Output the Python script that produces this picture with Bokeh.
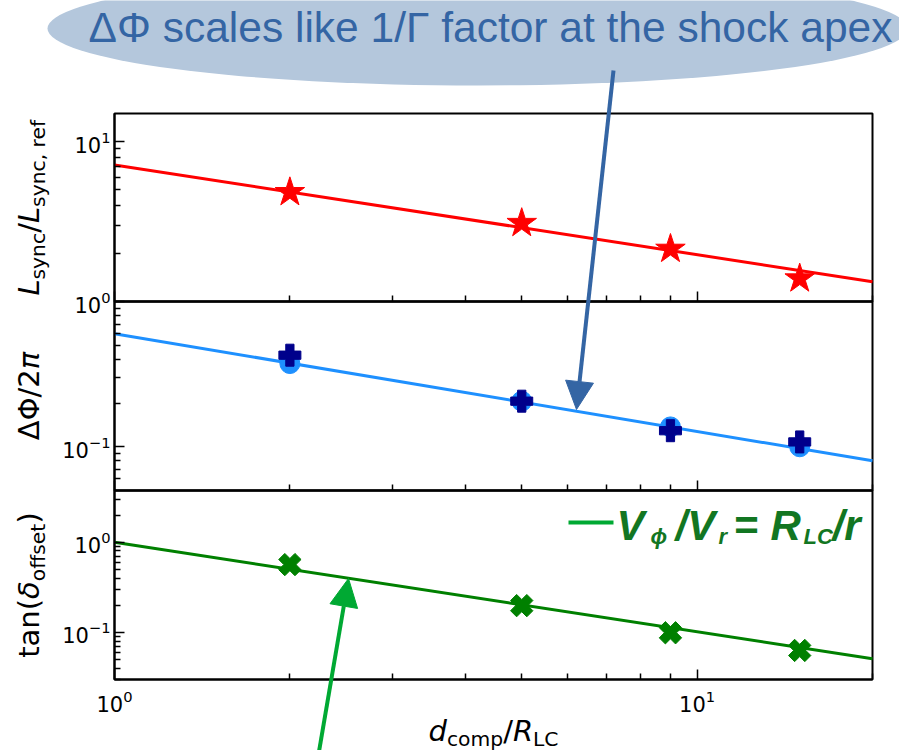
import math
from bokeh.plotting import figure
from bokeh.models import (Range1d, FixedTicker, Arrow, NormalHead, Label, LogAxis,
                          LogScale)
from bokeh.embed import file_html
from bokeh.resources import INLINE

# ---------------- data ----------------
d_comp = [2, 5, 9, 15]
L_sync = [4.82, 3.09, 2.13, 1.39]
dphi_circle = [0.374, 0.206, 0.137, 0.100]
dphi_plus = [0.427, 0.206, 0.129, 0.108]
tan_delta = [0.565, 0.198, 0.099, 0.063]

fit_x = [1, 20]
fit_L = [7.15, 1.33]
fit_dphi = [0.60, 0.080]
fit_tan = [1.0, 0.051]

x_lim = (1, 20)
y_lim_top = (1, 15)
y_lim_mid = (0.05, 1)
y_lim_bot = (0.03, 3.75)

x_major = [1, 10]
x_minor = [2, 3, 4, 5, 6, 7, 8, 9, 20]
y_major_top = [1, 10]
y_minor_top = [2, 3, 4, 5, 6, 7, 8, 9]
y_major_mid = [0.1]
y_minor_mid = [0.06, 0.07, 0.08, 0.09, 0.2, 0.3, 0.4, 0.5, 0.6, 0.7, 0.8, 0.9]
y_major_bot = [0.1, 1]
y_minor_bot = [0.03, 0.04, 0.05, 0.06, 0.07, 0.08, 0.09, 0.2, 0.3, 0.4, 0.5, 0.6,
               0.7, 0.8, 0.9, 2, 3]

title_text = "ΔΦ scales like 1/Γ factor at the shock apex"

# ---------------- layout (pixels, from top-left of the page) ----------------
W, H = 899, 750
XL, XR = 114, 872                     # frame left / right
PANELS = {"top": (113, 301), "mid": (301, 490), "bot": (490, 679)}   # frame top / bottom

BLUE = "#3465a4"
ELL = "#b4c7dc"
GREEN_A = "#00a933"
GREEN_T = "#127622"
MID = 0.36      # "middle" anchor sits ~0.36 em above the baseline


def Y(yref):
    return H - yref


def log_range(lo, hi, p_lo, p_hi, total):
    d = (p_hi - p_lo) / math.log10(hi / lo)
    return Range1d(lo * 10 ** (-p_lo / d), lo * 10 ** ((total - p_lo) / d))


p = figure(width=W, height=H, x_range=Range1d(0, W), y_range=Range1d(0, H),
           output_backend="svg", toolbar_location=None,
           x_axis_location=None, y_axis_location=None,
           min_border_left=0, min_border_right=0, min_border_top=0, min_border_bottom=0)
p.title.visible = False
p.grid.visible = False
p.xgrid.visible = False
p.ygrid.visible = False
p.outline_line_color = None
p.background_fill_color = "white"
p.border_fill_color = "white"

p.extra_x_ranges = {"lx": log_range(x_lim[0], x_lim[1], XL, XR, W)}
p.extra_x_scales = {"lx": LogScale()}
ylims = {"top": y_lim_top, "mid": y_lim_mid, "bot": y_lim_bot}
p.extra_y_ranges = {k: log_range(ylims[k][0], ylims[k][1], Y(PANELS[k][1]), Y(PANELS[k][0]), H)
                    for k in PANELS}
p.extra_y_scales = {k: LogScale() for k in PANELS}


def style_axis(ax):
    ax.axis_line_width = 2
    ax.axis_line_color = "black"
    ax.major_tick_line_width = 1.5
    ax.minor_tick_line_width = 1.5
    ax.major_tick_in = 10
    ax.major_tick_out = 0
    ax.minor_tick_in = 6
    ax.minor_tick_out = 0
    ax.major_label_text_font = "DejaVu Sans"
    ax.major_label_text_font_size = "21px"
    ax.major_label_text_color = "black"


# ---------------- header ----------------
p.ellipse(x=[477], y=[Y(28)], width=[860], height=[114], fill_color=ELL, line_color=None)
p.add_layout(Label(x=490, y=Y(42 - MID * 42.5), text=title_text,
                   text_font="Liberation Sans", text_font_size="42.5px",
                   text_color=BLUE, text_align="center", text_baseline="middle"))

# ---------------- panels: frames and axes ----------------
ticks = {"top": (y_major_top, y_minor_top), "mid": (y_major_mid, y_minor_mid),
         "bot": (y_major_bot, y_minor_bot)}
for k in PANELS:
    lo, hi = ylims[k]
    p.quad(left=[x_lim[0]], right=[x_lim[1]], bottom=[lo], top=[hi], fill_color=None,
           line_color="black", line_width=2, x_range_name="lx", y_range_name=k)
    yax = LogAxis(x_range_name="lx", y_range_name=k, fixed_location=x_lim[0],
                  bounds=ylims[k], ticker=FixedTicker(ticks=ticks[k][0], minor_ticks=ticks[k][1]))
    style_axis(yax)
    yax.major_label_standoff = 4
    p.add_layout(yax, "left")
    xax = LogAxis(x_range_name="lx", y_range_name=k, fixed_location=lo, bounds=x_lim,
                  ticker=FixedTicker(ticks=x_major, minor_ticks=x_minor))
    style_axis(xax)
    if k == "bot":
        xax.major_label_standoff = 10
    else:
        xax.major_label_text_alpha = 0
    p.add_layout(xax, "below")

# ---------------- data marks ----------------
p.line(fit_x, fit_L, line_color="red", line_width=3, x_range_name="lx", y_range_name="top")
p.scatter(d_comp, L_sync, marker="star", size=31, fill_color="red", line_color="red",
          x_range_name="lx", y_range_name="top")

p.line(fit_x, fit_dphi, line_color="#1e90ff", line_width=3, x_range_name="lx",
       y_range_name="mid")
p.scatter(d_comp, dphi_circle, marker="circle", size=20, fill_color="#1e90ff",
          line_color="#1e90ff", x_range_name="lx", y_range_name="mid")
p.scatter(d_comp, dphi_plus, marker="plus", size=22, fill_color="#00008b",
          line_color="#00008b", x_range_name="lx", y_range_name="mid")

p.line(fit_x, fit_tan, line_color="green", line_width=3, x_range_name="lx",
       y_range_name="bot")
p.scatter(d_comp, tan_delta, marker="plus", angle=0.785398, size=23, fill_color="green",
          line_color="green", x_range_name="lx", y_range_name="bot")

# ---------------- arrows ----------------
p.add_layout(Arrow(end=NormalHead(size=28, fill_color=BLUE, line_color=BLUE),
                   x_start=613, y_start=Y(70), x_end=576, y_end=Y(409),
                   line_width=4, line_color=BLUE))
p.add_layout(Arrow(end=NormalHead(size=28, fill_color=GREEN_A, line_color=GREEN_A),
                   x_start=318, y_start=Y(754), x_end=348, y_end=Y(578),
                   line_width=4, line_color=GREEN_A))

# ---------------- axis labels (math-style, built from pieces) ----------------
DV = {'L': .557, 's': .521, 'y': .592, 'n': .634, 'c': .550, '/': .337, ',': .318,
      ' ': .318, 'r': .411, 'e': .615, 'f': .352, 'o': .612, 'm': .974, 'p': .635,
      'd': .635, 'R': .695, 'C': .698, 't': .392, 'a': .613, '(': .390, ')': .390,
      'Δ': .684, 'Φ': .790, '2': .636, 'π': .602, 'δ': .612}


def tw(t, size):
    return sum(DV.get(ch, .6) for ch in t) * size


def place(pieces, center, base, vertical):
    total = sum(tw(t, sz) for t, _, sz, _ in pieces)
    pos = center - total / 2
    for t, style, sz, sh in pieces:
        kw = dict(text=t, text_font="DejaVu Sans", text_font_size=f"{sz}px",
                  text_font_style=style, text_color="black", text_align="left",
                  text_baseline="middle")
        if vertical:      # base = baseline x (ref px); text reads bottom-to-top
            lab = Label(x=base + sh - MID * sz, y=pos, angle=90, angle_units="deg", **kw)
        else:             # base = baseline y (ref px)
            lab = Label(x=pos, y=Y(base + sh - MID * sz), **kw)
        p.add_layout(lab)
        pos += tw(t, sz)


S, s, drop = 29, 20.3, 6
place([("L", "italic", S, 0), ("sync", "normal", s, drop), ("/", "normal", S, 0),
       ("L", "italic", S, 0), ("sync, ref", "normal", s, drop)],
      Y((113 + 301) / 2), 39, True)
place([("ΔΦ", "normal", S, 0), ("/2", "normal", S, 0), ("π", "italic", S, 0)],
      Y((301 + 490) / 2), 39, True)
place([("tan(", "normal", S, 0), ("δ", "italic", S, 0), ("offset", "normal", s, drop),
       (")", "normal", S, 0)],
      Y((490 + 679) / 2), 39, True)
place([("d", "italic", S, 0), ("comp", "normal", s, 5), ("/", "normal", S, 0),
       ("R", "italic", S, 0), ("LC", "normal", s, 5)],
      (XL + XR) / 2, 741, False)

# ---------------- legend-like annotation ----------------
p.add_layout(Arrow(end=None, x_start=568, y_start=Y(522), x_end=613, y_end=Y(522),
                   line_width=4, line_color=GREEN_A))
leg_pieces = [("V", 616, 540, 42), ("ϕ", 650, 544, 22), ("/V", 675, 540, 42),
              ("r", 718, 544, 22), ("=", 733, 540, 42), ("R", 770, 540, 42),
              ("LC", 803, 544, 22), ("/r", 832, 540, 42)]
for t, lx, base, fs in leg_pieces:
    p.add_layout(Label(x=lx, y=Y(base - MID * fs), text=t, text_font="Liberation Sans",
                       text_font_style="bold italic", text_font_size=f"{fs}px",
                       text_color=GREEN_T, text_align="left", text_baseline="middle"))

open("out.html", "w").write(file_html(p, INLINE))
